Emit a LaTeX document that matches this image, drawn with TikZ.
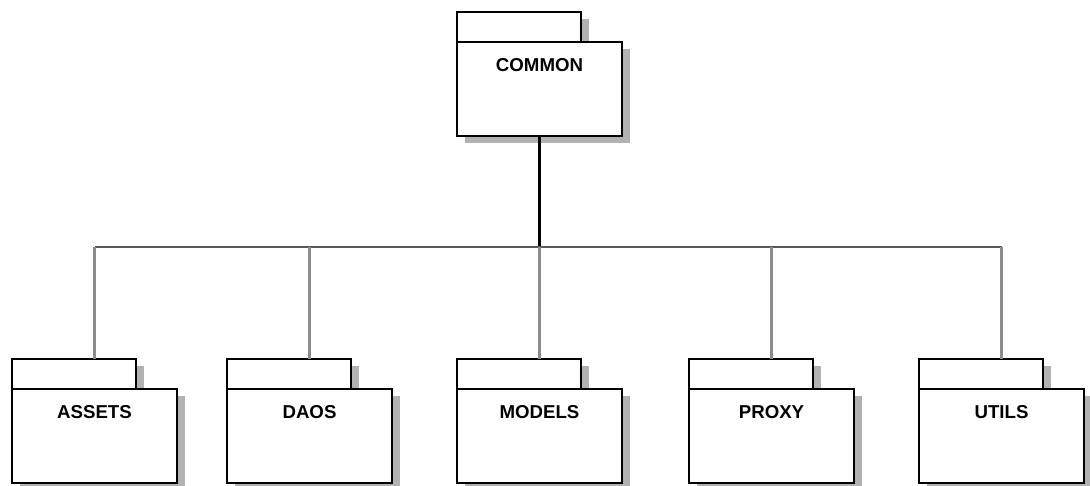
\documentclass[tikz,border=0pt]{standalone}
\usepackage{fontspec}
\setmainfont{Liberation Sans}
\usetikzlibrary{shadows}

\tikzset{
  pkgshadow/.style={drop shadow={shadow xshift=6pt, shadow yshift=-5.5pt, fill=black!30, opacity=1}},
  pkgbody/.style={draw, line width=2.2pt, fill=white, outer sep=0pt, inner sep=0pt,
    minimum width=123.75pt, minimum height=70.5pt, pkgshadow},
  pkgtab/.style={draw, line width=2.2pt, fill=white, outer sep=0pt, inner sep=0pt,
    minimum width=93pt, minimum height=22.5pt, pkgshadow},
  pkgname/.style={font=\fontsize{14}{16}\selectfont\bfseries, inner sep=0pt},
  trunk/.style={line width=2.1pt},
  bar/.style={line width=1.4pt, black!65},
  branch/.style={line width=1.7pt, black!45},
}

\begin{document}
\begin{tikzpicture}[x=0.75pt, y=-0.75pt]
  \useasboundingbox (0,0) rectangle (1090,486);

  % top package
  \node[pkgtab, anchor=north west] (commontab) at (457,12) {};
  \node[pkgbody, anchor=north west] (common) at (commontab.south west) {};
  \node[pkgname] (common-name) at ([yshift=-17.5pt]common.north) {COMMON};

  % sub packages
  \foreach \x/\nm/\txt in {12/assets/ASSETS, 227/daos/DAOS, 457/models/MODELS, 689/proxy/PROXY, 919/utils/UTILS}{
    \node[pkgtab, anchor=north west] (\nm tab) at (\x,359) {};
    \node[pkgbody, anchor=north west] (\nm) at (\nm tab.south west) {};
    \node[pkgname] (\nm-name) at ([yshift=-17.5pt]\nm.north) {\txt};
  }

  \coordinate (hub) at (common.south |- 0,247);
  \draw[trunk] (common.south) -- (hub);
  \draw[bar] (assets.north |- hub) -- (utils.north |- hub);
  \foreach \nm in {assets, daos, models, proxy, utils}
    \draw[branch] (\nm.north |- hub) -- (\nm.north |- \nm tab.north);
\end{tikzpicture}
\end{document}
